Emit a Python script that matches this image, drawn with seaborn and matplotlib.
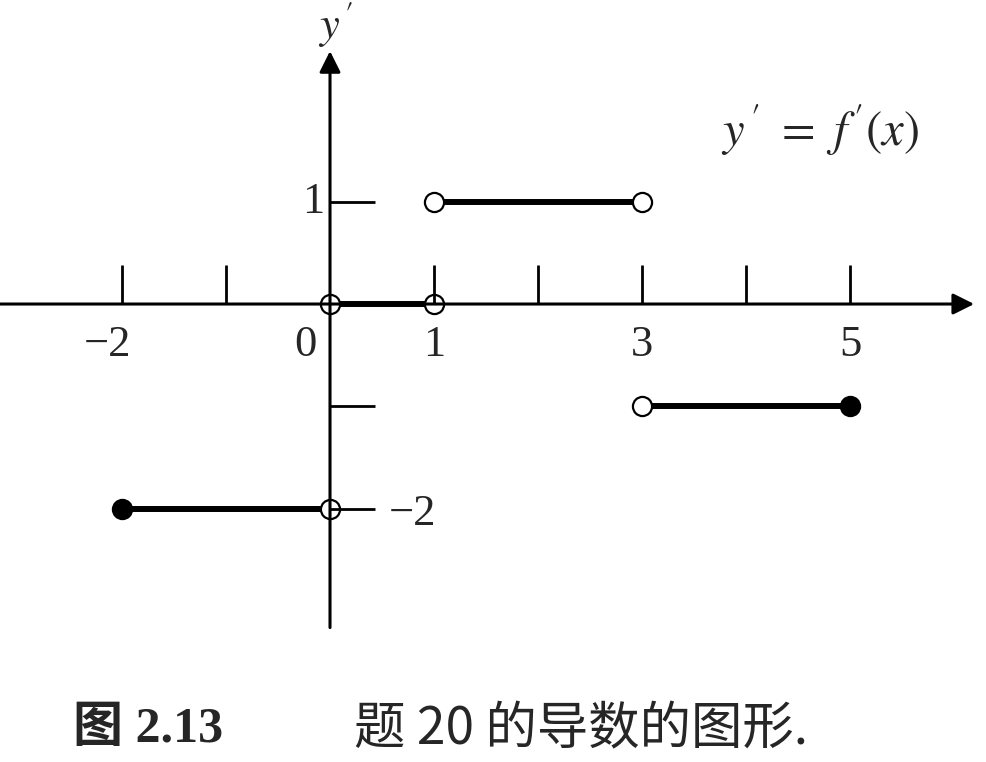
import matplotlib
matplotlib.use('Agg')
import matplotlib.pyplot as plt
import seaborn as sns
import pandas as pd

# Piecewise pieces of f'(x): start, end, value
seg_x0 = [-2, 0, 1, 3]
seg_x1 = [0, 1, 3, 5]
seg_y = [-2, 0, 1, -1]

# Endpoints: open (excluded) and closed (included)
open_x = [0, 0, 1, 1, 3, 3]
open_y = [-2, 0, 0, 1, 1, -1]
closed_x = [-2, 5]
closed_y = [-2, -1]

# Axis tick marks and labels
x_ticks = [-2, -1, 1, 2, 3, 4, 5]
y_ticks = [1, -1, -2]
x_label_vals = [-2, 0, 1, 3, 5]
x_label_text = ['\u22122', '0', '1', '3', '5']

sns.set_style('white')
plt.rcParams['font.family'] = ['Liberation Serif', 'Noto Sans CJK SC', 'DejaVu Sans']

fig = plt.figure(figsize=(9.87, 7.62), dpi=100)
ax = fig.add_axes([0, 0, 1, 1])
ax.set_xlim(-3.173, 6.317)
ax.set_ylim(-4.477, 2.972)
ax.axis('off')

# segments as a long table so seaborn draws each one
segs = pd.DataFrame({
    'x': seg_x0 + seg_x1,
    'y': seg_y + seg_y,
    'seg': list(range(len(seg_y))) * 2,
})
sns.lineplot(data=segs, x='x', y='y', units='seg', estimator=None,
             color='black', linewidth=4.3, ax=ax, legend=False, zorder=2)

# axes with arrows
ax.annotate('', xy=(6.22, 0), xytext=(-3.2, 0),
            arrowprops=dict(arrowstyle='-|>', lw=2.2, mutation_scale=32, color='black'),
            zorder=4)
ax.annotate('', xy=(0, 2.5), xytext=(0, -3.19),
            arrowprops=dict(arrowstyle='-|>', lw=2.2, mutation_scale=32, color='black'),
            zorder=4)

# tick marks
ax.vlines(x_ticks, 0, 0.38, color='black', lw=2.0, zorder=4)
ax.hlines(y_ticks, 0, 0.43, color='black', lw=2.0, zorder=4)

# endpoints
sns.scatterplot(x=open_x, y=open_y, s=190, facecolor='white', edgecolor='black',
                linewidth=1.6, ax=ax, zorder=3)
sns.scatterplot(x=closed_x, y=closed_y, s=190, color='black', edgecolor='black',
                linewidth=1.6, ax=ax, zorder=3)

# tick labels
num_fs = 32
for v, t in zip(x_label_vals, x_label_text):
    dx = -0.24 if v == 0 else (-0.14 if v < 0 else 0)
    ax.text(v + dx, -0.40, t, ha='center', va='center', fontsize=num_fs)
ax.text(-0.16, 1, '1', ha='center', va='center', fontsize=num_fs)
ax.text(0.79, -2.05, '\u22122', ha='center', va='center', fontsize=num_fs)

# axis name and function label
ax.text(0.06, 2.74, "$y\\,'$", ha='center', va='center', fontsize=32,
        math_fontfamily='stix')
ax.text(4.71, 1.70, "$y\\,'\\ =\\ f\\,'(x)$", ha='center', va='center', fontsize=35,
        math_fontfamily='stix')

# caption
ax.text(-2.47, -4.16, '图 2.13', ha='left', va='center', fontsize=36,
        fontweight='bold', family=['Liberation Serif', 'Noto Sans CJK SC'])
ax.text(0.23, -4.16, '题 20 的导数的图形.', ha='left', va='center', fontsize=37,
        family=['Noto Sans CJK SC', 'DejaVu Sans'])

fig.savefig('out.png', dpi=100)
